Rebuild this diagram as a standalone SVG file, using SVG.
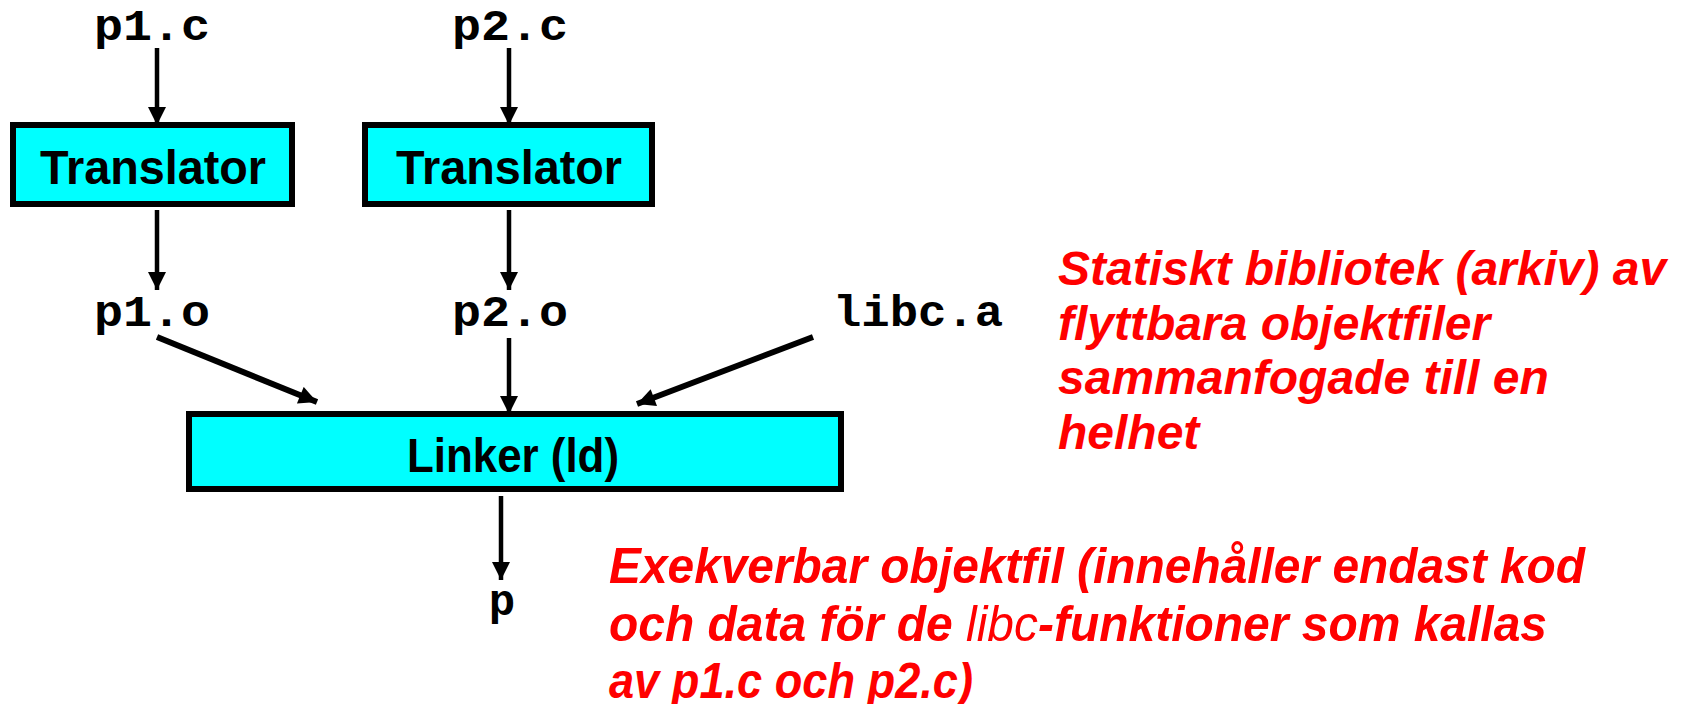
<svg xmlns="http://www.w3.org/2000/svg" width="1685" height="704" viewBox="0 0 1685 704">
<defs>
<style>
.mono{font-family:"Liberation Mono","Courier New",monospace;font-weight:bold;font-size:44px;fill:#000;text-anchor:middle}
.box{fill:#00FFFF;stroke:#000;stroke-width:6}
.lbl{font-family:"Liberation Sans",Arial,sans-serif;font-weight:bold;font-size:49px;fill:#000;text-anchor:middle}
.red{font-family:"Liberation Sans",Arial,sans-serif;font-weight:bold;font-style:italic;fill:#FF0000}
.conn{stroke:#000;stroke-width:4.5;fill:none;marker-end:url(#ah)}
.thick{stroke-width:6}
</style>
<marker id="ah" viewBox="0 0 10 10" refX="10" refY="5" markerUnits="userSpaceOnUse" markerWidth="20" markerHeight="18" orient="auto">
<path d="M0,0 L10,5 L0,10 z" fill="#000"/>
</marker>
</defs>
<g id="connectors">
<line class="conn" x1="157" y1="48" x2="157" y2="125"/>
<line class="conn" x1="509" y1="48" x2="509" y2="125"/>
<line class="conn" x1="157" y1="210" x2="157" y2="290"/>
<line class="conn" x1="509" y1="210" x2="509" y2="290"/>
<line class="conn thick" x1="157" y1="337" x2="317" y2="402"/>
<line class="conn" x1="509" y1="338" x2="509" y2="414"/>
<line class="conn thick" x1="813" y1="337" x2="637" y2="404"/>
<line class="conn" x1="501" y1="496" x2="501" y2="580"/>
</g>
<g id="p1c"><text class="mono" x="152" y="40" textLength="116" lengthAdjust="spacingAndGlyphs">p1.c</text></g>
<g id="p2c"><text class="mono" x="510" y="40" textLength="116" lengthAdjust="spacingAndGlyphs">p2.c</text></g>
<g id="translator1">
<rect class="box" x="13" y="125" width="279" height="79"/>
<text class="lbl" x="153" y="184" textLength="226" lengthAdjust="spacingAndGlyphs">Translator</text>
</g>
<g id="translator2">
<rect class="box" x="365" y="125" width="287" height="79"/>
<text class="lbl" x="509" y="184" textLength="226" lengthAdjust="spacingAndGlyphs">Translator</text>
</g>
<g id="p1o"><text class="mono" x="152" y="326" textLength="116" lengthAdjust="spacingAndGlyphs">p1.o</text></g>
<g id="p2o"><text class="mono" x="510" y="326" textLength="116" lengthAdjust="spacingAndGlyphs">p2.o</text></g>
<g id="libca"><text class="mono" x="918" y="326" textLength="170" lengthAdjust="spacingAndGlyphs">libc.a</text></g>
<g id="linker">
<rect class="box" x="189" y="414" width="652" height="75"/>
<text class="lbl" x="513" y="472" textLength="212" lengthAdjust="spacingAndGlyphs">Linker (ld)</text>
</g>
<g id="p"><text class="mono" x="502" y="615">p</text></g>
<g id="note1">
<text class="red" font-size="48" x="1058" y="285">Statiskt bibliotek (arkiv) av</text>
<text class="red" font-size="48" x="1058" y="340">flyttbara objektfiler</text>
<text class="red" font-size="48" x="1058" y="394">sammanfogade till en</text>
<text class="red" font-size="48" x="1058" y="449">helhet</text>
</g>
<g id="note2">
<text class="red" font-size="50" x="609" y="583" textLength="976" lengthAdjust="spacingAndGlyphs">Exekverbar objektfil (innehåller endast kod</text>
<text class="red" font-size="50" x="609" y="641" textLength="938" lengthAdjust="spacingAndGlyphs">och data för de <tspan font-weight="normal">libc</tspan>-funktioner som kallas</text>
<text class="red" font-size="50" x="609" y="698" textLength="364" lengthAdjust="spacingAndGlyphs">av p1.c och p2.c)</text>
</g>
</svg>
